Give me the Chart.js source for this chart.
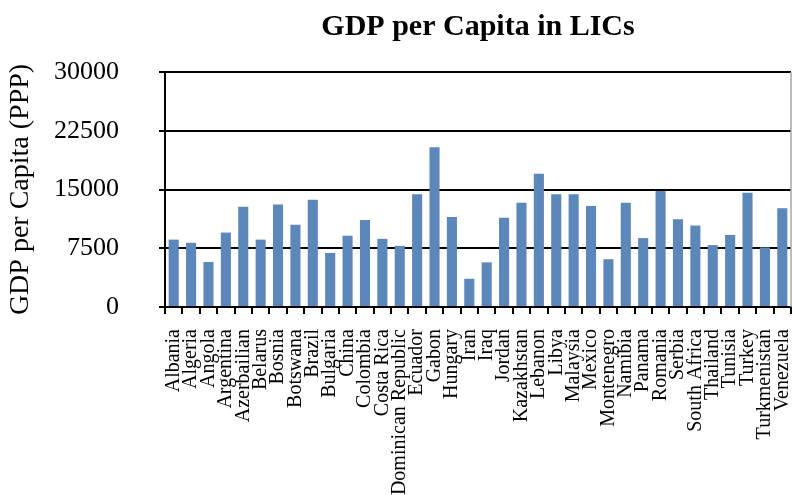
<!DOCTYPE html>
<html>
<head>
<meta charset="utf-8">
<script src="https://cdn.jsdelivr.net/npm/chart.js@4/dist/chart.umd.min.js"></script>
<style>
html,body{margin:0;padding:0;background:#fff;}
#wrap{width:792px;height:495px;position:relative;}
</style>
</head>
<body>
<div id="wrap"><canvas id="c" width="792" height="495"></canvas></div>
<script>
const countries = ["Albania","Algeria","Angola","Argentina","Azerbailian","Belarus","Bosnia","Botswana","Brazil","Bulgaria","China","Colombia","Costa Rica","Dominican Republic","Ecuador","Gabon","Hungary","Iran","Iraq","Jordan","Kazakhstan","Lebanon","Libya","Malaysia","Mexico","Montenegro","Namibia","Panama","Romania","Serbia","South Africa","Thailand","Tunisia","Turkey","Turkmenistan","Venezuela"];
const gdpPerCapita = [8600,8200,5750,9500,12800,8600,13100,10500,13700,6900,9100,11100,8700,7800,14400,20400,11500,3600,5700,11400,13300,17000,14400,14400,12900,6100,13300,8800,14800,11200,10400,7900,9200,14600,7600,12600];
const yTicks = [0,7500,15000,22500,30000];

const FONT = "'Liberation Serif','DejaVu Serif',serif";

const rightBorder = {
  id: 'rightBorder',
  afterDraw(chart) {
    const {ctx, chartArea} = chart;
    ctx.save();
    ctx.strokeStyle = '#a6a6a6';
    ctx.lineWidth = 1.5;
    ctx.beginPath();
    ctx.moveTo(chartArea.right, chartArea.top);
    ctx.lineTo(chartArea.right, chartArea.bottom);
    ctx.stroke();
    ctx.restore();
  }
};

new Chart(document.getElementById('c'), {
  type: 'bar',
  data: {
    labels: countries,
    datasets: [{
      data: gdpPerCapita,
      backgroundColor: '#5b87bb',
      borderWidth: 0,
      barPercentage: 0.58,
      categoryPercentage: 1.0
    }]
  },
  options: {
    responsive: false,
    animation: false,
    layout: { padding: { left: 0, right: 1, top: 0, bottom: 0 } },
    plugins: {
      legend: { display: false },
      tooltip: { enabled: false },
      title: {
        display: true,
        text: 'GDP per Capita in LICs',
        fullSize: false,
        color: '#000',
        font: { family: FONT, size: 30, weight: 'bold', lineHeight: 1.2 },
        padding: { top: 9, bottom: 27 }
      }
    },
    scales: {
      x: {
        offset: true,
        grid: { display: true, drawOnChartArea: false, drawTicks: true, tickLength: 7, color: '#000', lineWidth: 2 },
        border: { display: true, color: '#000', width: 2 },
        ticks: {
          color: '#000',
          autoSkip: false,
          maxRotation: 90,
          minRotation: 90,
          padding: 15,
          font: { family: FONT, size: 20 }
        },
        afterFit(scale) { scale.height = 188; scale.paddingLeft = 0; scale.paddingRight = 0; }
      },
      y: {
        min: 0,
        max: 30000,
        afterBuildTicks(scale) { scale.ticks = yTicks.map(v => ({ value: v })); },
        grid: { color: '#000', lineWidth: 2, drawTicks: true, tickLength: 6 },
        border: { display: true, color: '#000', width: 2 },
        ticks: {
          color: '#000',
          padding: 40,
          font: { family: FONT, size: 26 },
          callback: (v) => String(v)
        },
        title: {
          display: true,
          text: 'GDP per Capita (PPP)',
          color: '#000',
          font: { family: FONT, size: 28 },
          padding: { top: 4, bottom: 0 }
        },
        afterFit(scale) { scale.width = 165; scale.paddingTop = 0; scale.paddingBottom = 0; }
      }
    }
  },
  plugins: [rightBorder]
});
</script>
</body>
</html>
